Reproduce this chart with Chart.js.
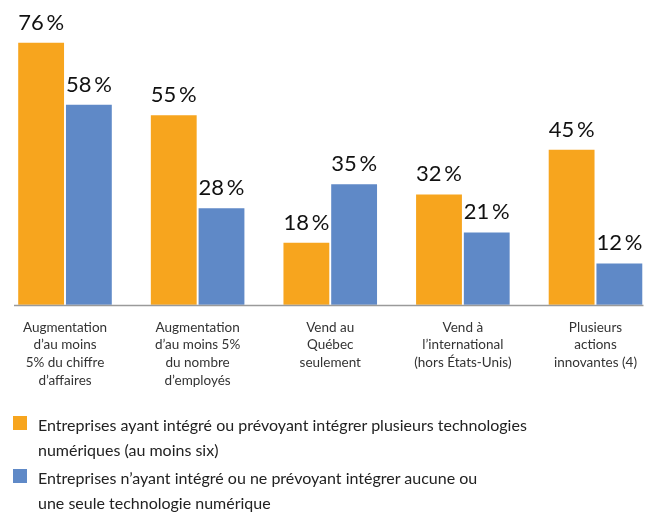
<!DOCTYPE html>
<html lang="fr">
<head>
<meta charset="utf-8">
<script src="https://cdn.jsdelivr.net/npm/chart.js@4"></script>
<style>
  html, body { margin: 0; padding: 0; background: #fff; }
  #wrap { position: relative; width: 651px; height: 512px; }
  #legend { position: absolute; left: 0; top: 412px; width: 651px; font-family: Lato, sans-serif; font-size: 16px; line-height: 25px; color: #222; }
  .item { position: relative; padding-left: 38px; margin-bottom: 3px; }
  .sw { position: absolute; left: 13px; top: 4px; width: 14px; height: 14px; }
</style>
</head>
<body>
<div id="wrap">
  <canvas id="chart" width="651" height="512"></canvas>
  <div id="legend"></div>
</div>
<script>
const categories = [
  ["Augmentation", "d\u2019au moins", "5% du chiffre", "d\u2019affaires"],
  ["Augmentation", "d\u2019au moins 5%", "du nombre", "d\u2019employ\u00e9s"],
  ["Vend au", "Qu\u00e9bec", "seulement"],
  ["Vend \u00e0", "l\u2019international", "(hors \u00c9tats-Unis)"],
  ["Plusieurs", "actions", "innovantes (4)"]
];
const seriesNames = [
  ["Entreprises ayant int\u00e9gr\u00e9 ou pr\u00e9voyant int\u00e9grer plusieurs technologies", "num\u00e9riques (au moins six)"],
  ["Entreprises n\u2019ayant int\u00e9gr\u00e9 ou ne pr\u00e9voyant int\u00e9grer aucune ou", "une seule technologie num\u00e9rique"]
];
const manyTech = [76, 55, 18, 32, 45];
const fewTech = [58, 28, 35, 21, 12];
const colors = ['#F7A51E', '#5F89C7'];

// value labels above each bar
const valueLabels = {
  id: 'valueLabels',
  afterDatasetsDraw(chart) {
    const ctx = chart.ctx;
    ctx.save();
    ctx.font = '22px Lato, sans-serif';
    ctx.fillStyle = '#111';
    ctx.textAlign = 'center';
    ctx.textBaseline = 'alphabetic';
    chart.data.datasets.forEach((ds, i) => {
      chart.getDatasetMeta(i).data.forEach((bar, j) => {
        ctx.fillText(ds.data[j] + '\u2009%', bar.x, bar.y - 13);
      });
    });
    ctx.restore();
  }
};

// grey baseline under the bars
const baseline = {
  id: 'baseline',
  afterDatasetsDraw(chart) {
    const x = chart.scales.x, y = chart.scales.y;
    const ctx = chart.ctx;
    const y0 = Math.round(y.getPixelForValue(0)) + 0.5;
    ctx.save();
    ctx.strokeStyle = '#9a9a9a';
    ctx.lineWidth = 1.5;
    ctx.beginPath();
    ctx.moveTo(x.getPixelForValue(0) - 51, y0);
    ctx.lineTo(x.getPixelForValue(categories.length - 1) + 48, y0);
    ctx.stroke();
    ctx.restore();
  }
};

new Chart(document.getElementById('chart'), {
  type: 'bar',
  data: {
    labels: categories,
    datasets: [
      { label: seriesNames[0].join(' '), data: manyTech, backgroundColor: colors[0], clip: false },
      { label: seriesNames[1].join(' '), data: fewTech, backgroundColor: colors[1], clip: false }
    ]
  },
  options: {
    responsive: false,
    animation: false,
    categoryPercentage: 0.72,
    barPercentage: 0.96,
    layout: { padding: { left: 65, right: 54, top: 29, bottom: 109 } },
    plugins: { legend: { display: false }, tooltip: { enabled: false } },
    scales: {
      x: {
        offset: false,
        grid: { display: false, drawTicks: false },
        border: { display: false },
        ticks: { padding: 14, color: '#333', font: { family: 'Lato, sans-serif', size: 13.5, lineHeight: 1.3 }, maxRotation: 0, autoSkip: false }
      },
      y: { display: false, min: 0, max: 80 }
    }
  },
  plugins: [valueLabels, baseline]
});

const legend = document.getElementById('legend');
seriesNames.forEach((lines, i) => {
  const div = document.createElement('div');
  div.className = 'item';
  div.innerHTML = '<span class="sw" style="background:' + colors[i] + '"></span>' + lines.join('<br>');
  legend.appendChild(div);
});
</script>
</body>
</html>
